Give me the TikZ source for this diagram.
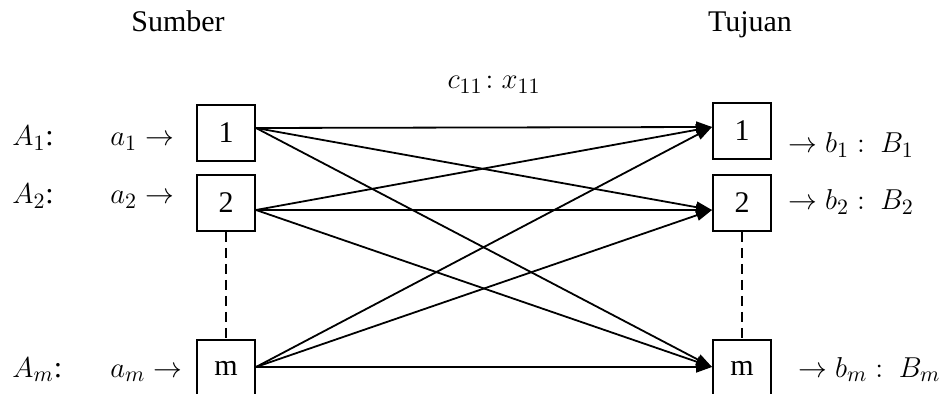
\documentclass[tikz,border=0pt]{standalone}
\usepackage{fontspec}
\setmainfont{Liberation Serif}
\usetikzlibrary{arrows.meta,calc}
\begin{document}
\begin{tikzpicture}[x=0.5pt,y=-0.5pt, font=\fontsize{15}{18}\selectfont,
  box/.style={draw, line width=1pt, minimum width=29pt, minimum height=28pt, inner sep=0pt},
  flow/.style={line width=0.9pt, -{Triangle[length=8pt,width=5.5pt]}},
  dashline/.style={line width=0.8pt, dash pattern=on 5pt off 3pt},
  lbl/.style={inner sep=0pt, anchor=base west},
  ttl/.style={inner sep=0pt, anchor=base}]
\useasboundingbox (0,0) rectangle (945,394);
% titles
\node[ttl] (sumber) at (178,32) {Sumber};
\node[ttl] (tujuan) at (750,32) {Tujuan};
\node[ttl] (cx) at (494,89) {$c_{11}\!:x_{11}$};
% boxes
\node[box] (L1) at (226,133) {1};
\node[box] (L2) at (226,203) {2};
\node[box] (Lm) at (226,368) {m};
\node[box] (R1) at (742,131) {1};
\node[box] (R2) at (742,203) {2};
\node[box] (Rm) at (742,368) {m};
% left labels
\node[lbl] (A1) at (12,146) {$A_1$:};
\node[lbl] (a1) at (110,146) {$a_1 \rightarrow$};
\node[lbl] (A2) at (12,204) {$A_2$:};
\node[lbl] (a2) at (110,204) {$a_2 \rightarrow$};
\node[lbl] (Am) at (12,377) {$A_m$:};
\node[lbl] (am) at (110,377) {$a_m \rightarrow$};
% right labels
\node[lbl] (b1) at (788,153) {$\rightarrow b_1 :\ B_1$};
\node[lbl] (b2) at (788,210) {$\rightarrow b_2 :\ B_2$};
\node[lbl] (bm) at (798,377) {$\rightarrow b_m :\ B_m$};
% connector endpoints
\coordinate (s1) at ($(L1.east)+(0,-5)$);
\coordinate (s2) at ($(L2.east)+(0,7)$);
\coordinate (sm) at ($(Lm.east)+(0,-1)$);
\coordinate (t1) at ($(R1.west)+(0,-4)$);
\coordinate (t2) at ($(R2.west)+(0,7)$);
\coordinate (tm) at ($(Rm.west)+(0,-1)$);
% flows
\foreach \s in {s1,s2,sm}{
  \foreach \t in {t1,t2,tm}{
    \draw[flow] (\s) -- (\t);
  }
}
% dashed
\draw[dashline] (L2.south) -- (Lm.north);
\draw[dashline] (R2.south) -- (Rm.north);
\end{tikzpicture}
\end{document}
